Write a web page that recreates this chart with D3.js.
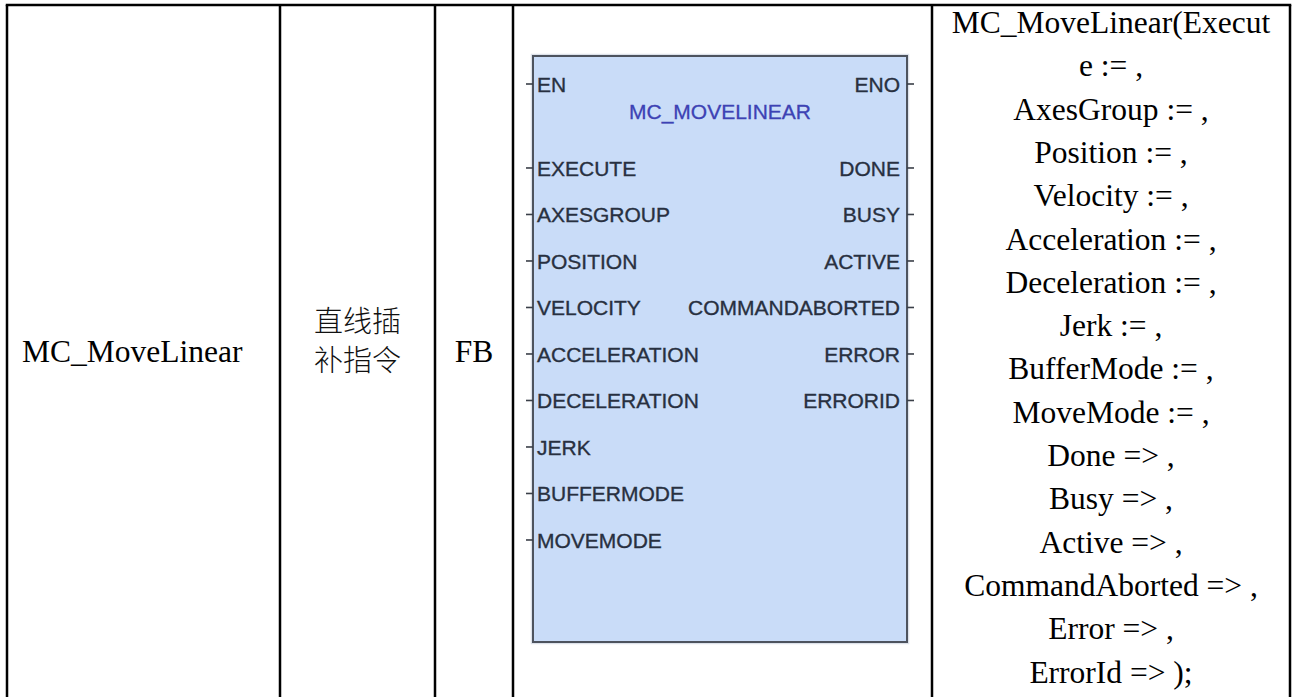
<!DOCTYPE html>
<html><head><meta charset="utf-8">
<script src="https://cdn.jsdelivr.net/npm/d3@7"></script>
<style>html,body{margin:0;padding:0;background:#fff;}svg{display:block;}</style>
</head><body>
<script>
// ---- data ----
const cellName = "MC_MoveLinear";
const cellDesc = ["直线插", "补指令"];
const cellType = "FB";
const blockTitle = "MC_MOVELINEAR";
const inputs = ["EN","EXECUTE","AXESGROUP","POSITION","VELOCITY","ACCELERATION","DECELERATION","JERK","BUFFERMODE","MOVEMODE"];
const outputs = ["ENO","DONE","BUSY","ACTIVE","COMMANDABORTED","ERROR","ERRORID"];
const codeLines = ["MC_MoveLinear(Execut","e := ,","AxesGroup := ,","Position := ,","Velocity := ,","Acceleration := ,","Deceleration := ,","Jerk := ,","BufferMode := ,","MoveMode := ,","Done => ,","Busy => ,","Active => ,","CommandAborted => ,","Error => ,","ErrorId => );"];
const colEdges = [7, 280, 435, 513, 932, 1290];

// ---- layout ----
const W = 1292, H = 697;
const svg = d3.select("body").append("svg").attr("width", W).attr("height", H);
const serif = "'Liberation Serif','Times New Roman',serif";
const sans = "'Liberation Sans',Arial,sans-serif";

// table borders
const tbl = svg.append("g");
tbl.append("line").attr("x1", colEdges[0]-1.25).attr("x2", colEdges[5]+1.25).attr("y1", 5).attr("y2", 5)
  .attr("stroke", "#000").attr("stroke-width", 2.5);
tbl.selectAll("line.v").data(colEdges).join("line").attr("class","v")
  .attr("x1", d => d).attr("x2", d => d).attr("y1", 5).attr("y2", H+5)
  .attr("stroke", "#000").attr("stroke-width", 2.5);

const mid = i => (colEdges[i] + colEdges[i+1]) / 2;

// column 1, 3
svg.append("text").attr("x", 22).attr("y", 362).attr("font-family", serif).attr("font-size", 31.5)
  .attr("fill", "#000").text(cellName);
svg.append("text").attr("x", mid(2)).attr("y", 362).attr("text-anchor", "middle").attr("font-family", serif)
  .attr("font-size", 31.5).attr("fill", "#000").text(cellType);
// column 2
svg.selectAll("text.desc").data(cellDesc).join("text").attr("class","desc")
  .attr("x", mid(1)).attr("y", (d,i) => 332 + i*39).attr("text-anchor","middle")
  .attr("font-family", "'Noto Sans CJK SC',sans-serif").attr("font-weight", 300).attr("font-size", 29).attr("fill", "#111")
  .text(d => d);

// column 5: code lines
const lineY = d3.scaleLinear().domain([0, codeLines.length-1]).range([33, 682.5]);
svg.selectAll("text.code").data(codeLines).join("text").attr("class","code")
  .attr("x", mid(4)).attr("y", (d,i) => lineY(i)).attr("text-anchor","middle")
  .attr("font-family", serif).attr("font-size", 31.5).attr("fill", "#000").attr("xml:space","preserve")
  .text(d => d);

// function block
const bx = d3.scaleLinear().domain([0,1]).range([533, 907]);
const by = d3.scaleLinear().domain([0,1]).range([56, 642]);
const slotY = d3.scaleLinear().domain([0,1]).range([84, 130.5]);
const slot = i => i === 0 ? 0 : i + 0.806;

const blk = svg.append("g");
blk.append("rect").attr("x", bx(0)-1.5).attr("y", by(0)-1.5).attr("width", bx(1)-bx(0)+3).attr("height", by(1)-by(0)+3)
  .attr("fill", "none").attr("stroke", "#dde2ea").attr("stroke-width", 1.5);
blk.append("rect").attr("x", bx(0)).attr("y", by(0)).attr("width", bx(1)-bx(0)).attr("height", by(1)-by(0))
  .attr("fill", "#c9dcf8").attr("stroke", "#4d535e").attr("stroke-width", 2);

blk.append("text").attr("x", 720).attr("y", slotY(0.75)).attr("text-anchor","middle")
  .attr("font-family", sans).attr("font-size", 21).attr("fill", "#3d42b4")
  .attr("stroke", "#3d42b4").attr("stroke-width", 0.3).text(blockTitle);

blk.selectAll("line.in").data(inputs).join("line").attr("class","in")
  .attr("x1", bx(0)-7).attr("x2", bx(0)).attr("y1", (d,i) => slotY(slot(i))).attr("y2", (d,i) => slotY(slot(i)))
  .attr("stroke", "#3a3f48").attr("stroke-width", 1.6);
blk.selectAll("text.in").data(inputs).join("text").attr("class","in")
  .attr("x", bx(0)+4).attr("y", (d,i) => slotY(slot(i)) + 8)
  .attr("font-family", sans).attr("font-size", 21).attr("fill", "#283040")
  .attr("stroke", "#283040").attr("stroke-width", 0.35).text(d => d);

blk.selectAll("line.out").data(outputs).join("line").attr("class","out")
  .attr("x1", bx(1)).attr("x2", bx(1)+7).attr("y1", (d,i) => slotY(slot(i))).attr("y2", (d,i) => slotY(slot(i)))
  .attr("stroke", "#3a3f48").attr("stroke-width", 1.6);
blk.selectAll("text.out").data(outputs).join("text").attr("class","out")
  .attr("x", bx(1)-7).attr("y", (d,i) => slotY(slot(i)) + 8).attr("text-anchor","end")
  .attr("font-family", sans).attr("font-size", 21).attr("fill", "#283040")
  .attr("stroke", "#283040").attr("stroke-width", 0.35).text(d => d);
</script>
</body></html>
